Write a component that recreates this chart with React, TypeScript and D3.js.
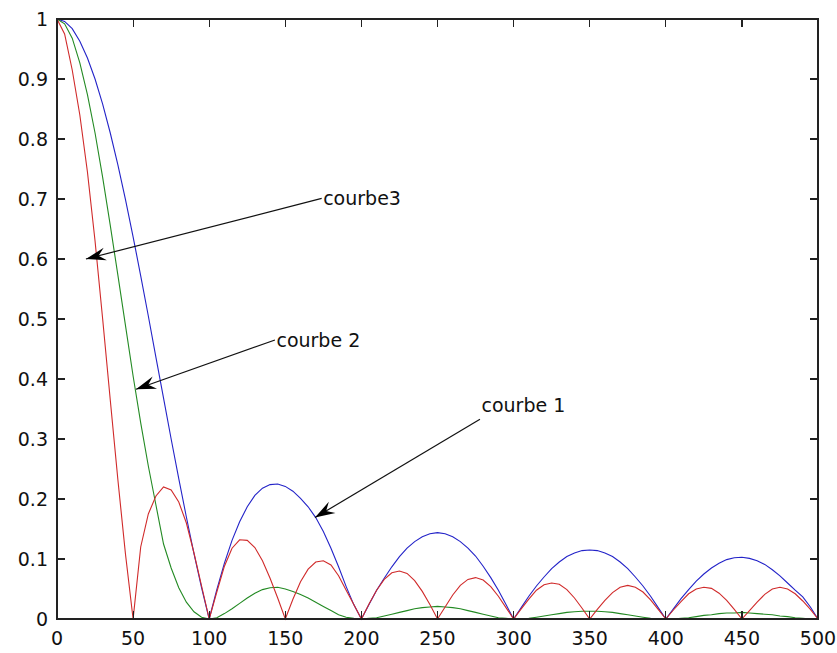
import * as d3 from 'd3'

// sample grid (every 5 units, 0..500)
const X = d3.range(0, 501, 5)

const courbe1 = [
  1.000, 0.996, 0.984, 0.963, 0.935, 0.900, 0.858, 0.810, 0.757, 0.699, 0.637, 0.572, 0.505, 0.436, 0.368, 0.300, 0.234, 0.170, 0.109, 0.052, 0.000,
  0.049, 0.093, 0.131, 0.162, 0.187, 0.206, 0.218, 0.224, 0.225, 0.221, 0.213, 0.201, 0.187, 0.169, 0.146, 0.118, 0.087, 0.054, 0.024, 0.000,
  0.024, 0.048, 0.068, 0.087, 0.104, 0.118, 0.129, 0.137, 0.142, 0.144, 0.142, 0.137, 0.129, 0.118, 0.105, 0.088, 0.069, 0.048, 0.024, 0.000,
  0.019, 0.038, 0.055, 0.070, 0.084, 0.095, 0.104, 0.110, 0.114, 0.115, 0.114, 0.110, 0.104, 0.095, 0.084, 0.070, 0.055, 0.038, 0.019, 0.000,
  0.017, 0.034, 0.049, 0.063, 0.075, 0.085, 0.093, 0.099, 0.102, 0.103, 0.101, 0.097, 0.091, 0.082, 0.072, 0.060, 0.048, 0.037, 0.020, 0.000,
]

const courbe2 = [
  1.000, 0.992, 0.968, 0.927, 0.874, 0.810, 0.736, 0.656, 0.573, 0.489, 0.405, 0.327, 0.255, 0.190, 0.125, 0.085, 0.052, 0.028, 0.012, 0.003, 0.000,
  0.002, 0.009, 0.017, 0.026, 0.035, 0.043, 0.049, 0.052, 0.053, 0.050, 0.046, 0.041, 0.035, 0.028, 0.021, 0.014, 0.007, 0.003, 0.001, 0.000,
  0.001, 0.002, 0.005, 0.008, 0.011, 0.014, 0.017, 0.019, 0.020, 0.021, 0.020, 0.019, 0.017, 0.014, 0.011, 0.008, 0.005, 0.002, 0.001, 0.000,
  0.000, 0.001, 0.003, 0.005, 0.007, 0.009, 0.011, 0.012, 0.013, 0.013, 0.013, 0.012, 0.011, 0.009, 0.007, 0.005, 0.003, 0.001, 0.000, 0.000,
  0.000, 0.001, 0.002, 0.004, 0.006, 0.007, 0.009, 0.010, 0.010, 0.011, 0.010, 0.009, 0.008, 0.007, 0.005, 0.004, 0.002, 0.001, 0.000, 0.000,
]

const courbe3 = [
  1.000, 0.975, 0.915, 0.840, 0.745, 0.630, 0.500, 0.365, 0.232, 0.108, 0.000,
  0.120, 0.175, 0.205, 0.220, 0.215, 0.195, 0.160, 0.110, 0.055, 0.000,
  0.045, 0.088, 0.118, 0.132, 0.131, 0.119, 0.097, 0.068, 0.035, 0.000,
  0.033, 0.062, 0.083, 0.095, 0.097, 0.090, 0.072, 0.048, 0.024, 0.000,
  0.025, 0.048, 0.066, 0.077, 0.080, 0.076, 0.064, 0.046, 0.024, 0.000,
  0.020, 0.040, 0.056, 0.066, 0.069, 0.065, 0.054, 0.038, 0.019, 0.000,
  0.017, 0.033, 0.048, 0.057, 0.060, 0.058, 0.049, 0.035, 0.018, 0.000,
  0.016, 0.031, 0.044, 0.053, 0.056, 0.053, 0.045, 0.032, 0.016, 0.000,
  0.015, 0.029, 0.042, 0.050, 0.053, 0.051, 0.043, 0.031, 0.016, 0.000,
  0.014, 0.028, 0.041, 0.050, 0.053, 0.050, 0.042, 0.030, 0.016, 0.000,
]

const xTicks = [0, 50, 100, 150, 200, 250, 300, 350, 400, 450, 500]
const yTicks = [0, 0.1, 0.2, 0.3, 0.4, 0.5, 0.6, 0.7, 0.8, 0.9, 1]

const series = [
  { name: 'courbe 1', values: courbe1, color: '#2323c8' },
  { name: 'courbe 2', values: courbe2, color: '#238a23' },
  { name: 'courbe3', values: courbe3, color: '#d02a2a' },
]

// text arrows, in data units (tail = where the text sits, tip = arrow point)
const arrows = [
  { label: 'courbe3', tail: [173.9, 0.701], tip: [19.0, 0.600], dx: 1.5, dy: 6.5 },
  { label: 'courbe 2', tail: [143.2, 0.465], tip: [51.9, 0.383], dx: 1.5, dy: 7 },
  { label: 'courbe 1', tail: [277.9, 0.333], tip: [169.5, 0.169], dx: 1.5, dy: -7.5 },
]

const W = 837, H = 653
const M = { left: 57, right: 19, top: 19, bottom: 34 }
const FONT = '"DejaVu Sans", sans-serif'

export default function App() {
  const x = d3.scaleLinear().domain([0, 500]).range([M.left, W - M.right])
  const y = d3.scaleLinear().domain([0, 1]).range([H - M.bottom, M.top])
  const line = d3.line<number>().x((_, i) => x(X[i])).y(d => y(d))
  const tk = 8
  const x0 = x.range()[0], x1 = x.range()[1]
  const yb = y.range()[0], yt = y.range()[1]

  return (
    <svg width={W} height={H} style={{ position: 'absolute', left: 0, top: 0, background: '#fff' }}
      fontFamily={FONT}>
      <rect x={0} y={0} width={W} height={H} fill="#fff" />

      {series.map(s => (
        <path key={s.name} d={line(s.values) ?? ''} fill="none" stroke={s.color} strokeWidth={1.1} />
      ))}

      {/* box + inward ticks */}
      <g stroke="#222" strokeWidth={1.2} fill="none" shapeRendering="crispEdges">
        <rect x={x0} y={yt} width={x1 - x0} height={yb - yt} />
        {xTicks.map(t => (
          <g key={'x' + t}>
            <line x1={x(t)} x2={x(t)} y1={yb} y2={yb - tk} />
            <line x1={x(t)} x2={x(t)} y1={yt} y2={yt + tk} />
          </g>
        ))}
        {yTicks.map(t => (
          <g key={'y' + t}>
            <line x1={x0} x2={x0 + tk} y1={y(t)} y2={y(t)} />
            <line x1={x1} x2={x1 - tk} y1={y(t)} y2={y(t)} />
          </g>
        ))}
      </g>

      <g fontSize={19} fill="#111">
        {xTicks.map(t => (
          <text key={'xl' + t} x={x(t)} y={yb + 26} textAnchor="middle">{t}</text>
        ))}
        {yTicks.map(t => (
          <text key={'yl' + t} x={x0 - 9} y={y(t) + 7} textAnchor="end">{d3.format('~g')(t)}</text>
        ))}
      </g>

      {arrows.map(a => {
        const tx = x(a.tail[0]), ty = y(a.tail[1])
        const px = x(a.tip[0]), py = y(a.tip[1])
        const ang = Math.atan2(py - ty, px - tx) * 180 / Math.PI
        return (
          <g key={a.label}>
            <line x1={tx} y1={ty} x2={px} y2={py} stroke="#111" strokeWidth={1.2} />
            <path d="M0,0 L-20,-6.5 L-13,0 L-20,6.5 Z" fill="#000"
              transform={`translate(${px},${py}) rotate(${ang})`} />
            <text x={tx + a.dx} y={ty + a.dy} fontSize={19} fill="#111">{a.label}</text>
          </g>
        )
      })}
    </svg>
  )
}
